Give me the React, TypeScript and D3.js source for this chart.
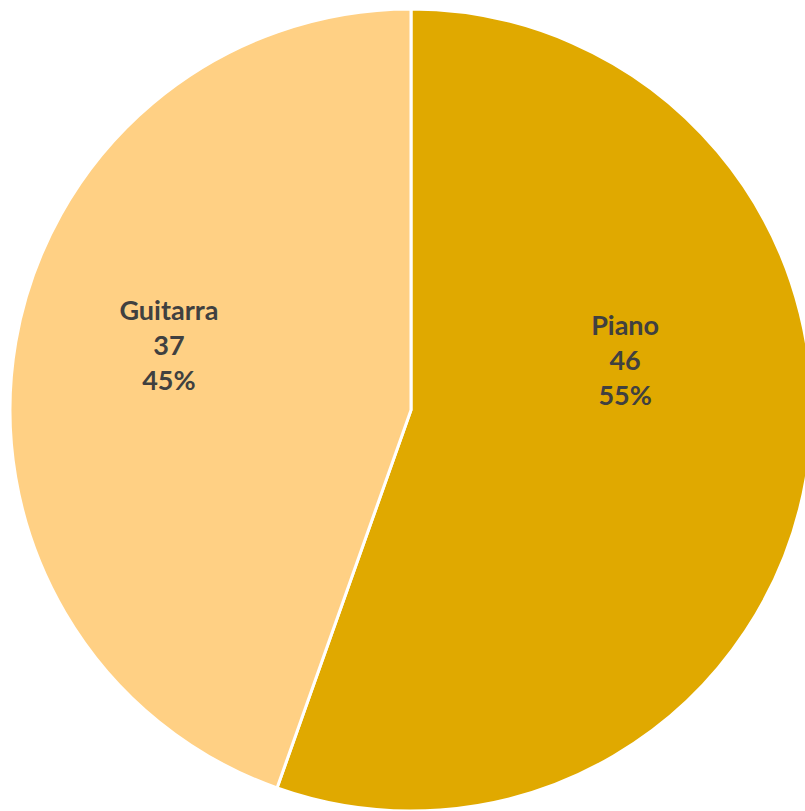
import React, { useEffect, useRef } from 'react';
import * as d3 from 'd3';

const categories = ['Piano', 'Guitarra'];
const values = [46, 37];
const percents = ['55%', '45%'];
const colors = ['#E0A900', '#FFD084'];

// label nudges relative to slice centroid (Excel "best fit" placement)
const labelNudge: [number, number][] = [
  [-23, -125],
  [-5, -58],
];

const W = 805;
const H = 811;

const App: React.FC = () => {
  const svgRef = useRef<SVGSVGElement>(null);

  useEffect(() => {
    if (!svgRef.current) return;
    const svg = d3.select(svgRef.current);
    svg.selectAll('*').remove();

    const cx = 411;
    const cy = 410;
    const r = 401;

    const g = svg.append('g').attr('transform', `translate(${cx}, ${cy})`);

    const data = categories.map((c, i) => ({ name: c, value: values[i], pct: percents[i], color: colors[i] }));

    const pie = d3.pie<any>().sort(null).value(d => d.value);
    const arc = d3.arc<any>().innerRadius(0).outerRadius(r);
    const labelArc = d3.arc<any>().innerRadius(r * 0.6).outerRadius(r * 0.6);

    const arcs = pie(data);

    g.selectAll('.slice')
      .data(arcs)
      .enter()
      .append('path')
      .attr('class', 'slice')
      .attr('d', arc)
      .attr('fill', d => d.data.color)
      .attr('stroke', '#fff')
      .attr('stroke-width', 3)
      .attr('stroke-linejoin', 'round');

    const labels = g.selectAll('.label')
      .data(arcs)
      .enter()
      .append('text')
      .attr('class', 'label')
      .attr('text-anchor', 'middle')
      .attr('font-family', 'Lato, "Open Sans", sans-serif')
      .attr('font-weight', 'bold')
      .attr('font-size', 27)
      .attr('fill', '#404040')
      .attr('transform', (d, i) => {
        const [x, y] = labelArc.centroid(d);
        return `translate(${x + labelNudge[i][0]}, ${y + labelNudge[i][1]})`;
      });

    labels.each(function (d) {
      const t = d3.select(this);
      [d.data.name, String(d.data.value), d.data.pct].forEach((line, k) => {
        t.append('tspan').attr('x', 0).attr('y', k * 35 + 9).text(line);
      });
    });
  }, []);

  return (
    <svg
      ref={svgRef}
      width={W}
      height={H}
      style={{ position: 'absolute', left: 0, top: 0, display: 'block', background: '#fff' }}
    />
  );
};

export default App;
